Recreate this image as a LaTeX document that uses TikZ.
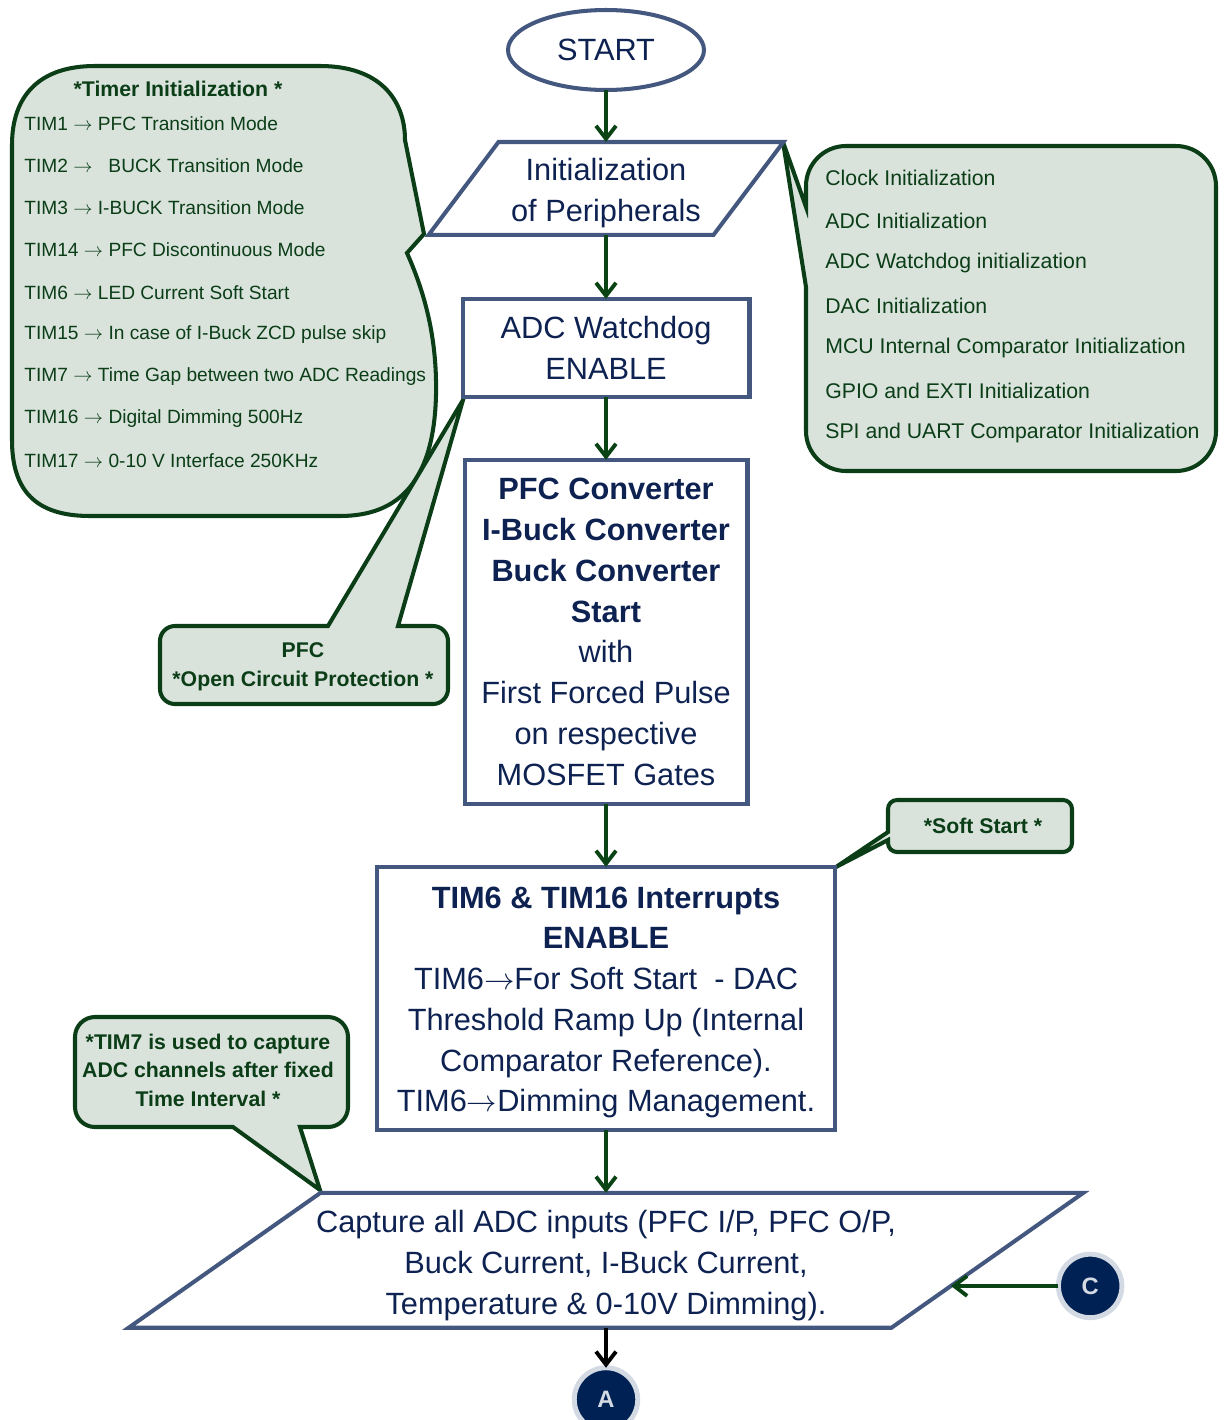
\documentclass[tikz,border=0pt]{standalone}
\usepackage{fontspec}
\setmainfont{Liberation Sans}
\usetikzlibrary{positioning,shapes.geometric,arrows.meta,calc}

\definecolor{navytext}{HTML}{0E2252}
\definecolor{boxblue}{HTML}{44587F}
\definecolor{notegreen}{HTML}{0B3D17}
\definecolor{notefill}{HTML}{D9E3DC}
\definecolor{flowgreen}{HTML}{0A4414}
\definecolor{circnavy}{HTML}{002153}
\definecolor{ringgrey}{HTML}{D3DAE3}

\newcommand{\flowfont}{\fontsize{17.5}{23.2}\selectfont}
\newcommand{\timerfont}{\fontsize{10.9}{13}\selectfont}
\newcommand{\periphfont}{\fontsize{12.1}{14}\selectfont}

\begin{document}
\begin{tikzpicture}[x=0.02cm,y=-0.02cm,
	terminal/.style={ellipse,draw=boxblue,line width=2.3pt,fill=white,text=navytext,inner sep=0pt,outer sep=0pt,minimum width=3.92cm,minimum height=1.6cm,font=\flowfont},
	process/.style={rectangle,draw=boxblue,line width=2.3pt,fill=white,text=navytext,align=center,inner sep=0pt,outer sep=0pt,font=\flowfont},
	iotext/.style={rectangle,text=navytext,align=center,inner sep=0pt,outer sep=0pt,font=\flowfont},
	iobox/.style={draw=boxblue,line width=2.3pt,line join=miter},
	paths/.style={-{Straight Barb[length=2.6mm,width=4mm]},line width=2.2pt,draw=flowgreen},
	bubble/.style={draw=notegreen,fill=notefill,line width=2.3pt,line join=miter},
	listitem/.style={anchor=base west,text=notegreen,inner sep=0pt},
	note/.style={text=notegreen,align=center,inner sep=0pt,font=\bfseries\fontsize{12.1}{16.2}\selectfont},
	connector/.style={circle,fill=circnavy,draw=ringgrey,line width=2.8pt,minimum size=1.27cm,inner sep=0pt,outer sep=0pt,text=ringgrey,font=\bfseries\fontsize{13.5}{13.5}\selectfont}
	]
\useasboundingbox (0,0) rectangle (1224,1420);

% timer initialization callout
\draw[bubble] (424,234) -- (407,253) .. controls (428,300) and (437,345) .. (436,395)
	.. controls (434,480) and (400,516) .. (340,516) -- (90,516)
	.. controls (35,516) and (12,490) .. (12,440) -- (12,145)
	.. controls (12,95) and (40,66) .. (95,66) -- (320,66)
	.. controls (380,66) and (405,100) .. (405,140) -- cycle;
\node [note] (timertitle) at (178,89) {*Timer Initialization *};
\foreach \y/\txt in {130/TIM1 $\rightarrow$ PFC Transition Mode,
	172/TIM2 $\rightarrow$~~~BUCK Transition Mode,
	214/TIM3 $\rightarrow$ I-BUCK Transition Mode,
	256/TIM14 $\rightarrow$ PFC Discontinuous Mode,
	299/TIM6 $\rightarrow$ LED Current Soft Start,
	339/TIM15 $\rightarrow$ In case of I-Buck ZCD pulse skip,
	381/TIM7 $\rightarrow$ Time Gap between two ADC Readings,
	423/TIM16 $\rightarrow$ Digital Dimming 500Hz,
	467/TIM17 $\rightarrow$ 0-10 V Interface 250KHz}
	\node [listitem,font=\timerfont] (timer-\y) at (24,\y) {\txt};

% peripherals callout
\draw[bubble] (783,142) -- (806,207) -- (806,186) arc (180:270:40) -- (1176,146) arc (270:360:40)
	-- (1216,431) arc (0:90:40) -- (846,471) arc (90:180:40) -- (806,287) -- cycle;
\foreach \y/\txt in {185/Clock Initialization,
	228/ADC Initialization,
	268/ADC Watchdog initialization,
	313/DAC Initialization,
	353/MCU Internal Comparator Initialization,
	398/GPIO and EXTI Initialization,
	438/SPI and UART Comparator Initialization}
	\node [listitem,font=\periphfont] (periph-\y) at (825,\y) {\txt};

% open circuit callout
\draw[bubble] (463,400) -- (398,626) -- (405,626) [rounded corners=0.3cm] -- (448,626) -- (448,704)
	-- (160,704) -- (160,626) -- (200,626) [sharp corners] -- (328,626) -- cycle;
\node [note] (pfcnote) at (303,667) {PFC\\*Open Circuit Protection *};

% soft start callout
\draw[bubble] (836,867) -- (888,840) -- (888,841) [rounded corners=0.18cm] -- (888,852) -- (1072,852)
	-- (1072,800) -- (888,800) -- (888,820) [sharp corners] -- (888,832) -- cycle;
\node [note] (softnote) at (983,826) {*Soft Start *};

% tim7 callout
\draw[bubble] (320,1190) -- (300,1127) -- (305,1127) [rounded corners=0.4cm] -- (348,1127) -- (348,1017)
	-- (75,1017) -- (75,1127) -- (120,1127) [sharp corners] -- (233,1127) -- cycle;
\node [note] (tim7note) at (208,1070) {*TIM7 is used to capture\\ADC channels after fixed\\Time Interval *};

% main flow
\node [terminal] (start) at (606,50) {START};
\node [iotext,minimum width=5.7cm,minimum height=1.86cm] (init) [below = 1.04cm of start] {\rule{0pt}{18.2pt}Initialization\\of Peripherals};
\node [process,minimum width=5.74cm,minimum height=1.96cm] (adc) [below = 1.28cm of init] {ADC Watchdog\\ENABLE};
\node [process,minimum width=5.66cm,minimum height=6.88cm] (pfc) [below = 1.26cm of adc]
	{\textbf{PFC Converter}\\\textbf{I-Buck Converter}\\\textbf{Buck Converter}\\\textbf{Start}\\with\\First Forced Pulse\\on respective\\MOSFET Gates};
\node [process,minimum width=9.16cm,minimum height=5.26cm] (tim6) [below = 1.26cm of pfc]
	{\rule{0pt}{17pt}\textbf{TIM6 \& TIM16 Interrupts}\\\textbf{ENABLE}\\TIM6$\rightarrow$For Soft Start~ - DAC\\Threshold Ramp Up (Internal\\Comparator Reference).\\TIM6$\rightarrow$Dimming Management.};
\node [iotext,minimum width=15.26cm,minimum height=2.7cm] (capture) [below = 1.26cm of tim6]
	{\rule{0pt}{18.5pt}Capture all ADC inputs (PFC I/P, PFC O/P,\\Buck Current, I-Buck Current,\\Temperature \& 0-10V Dimming).};
\node [connector] (A) [below = 0.8cm of capture] {A};

\draw [iobox] ([xshift=-0.7cm]init.south west) -- ([xshift=-0.7cm]init.south east)
	-- ([xshift=0.7cm]init.north east) -- ([xshift=0.7cm]init.north west) -- cycle;
\draw [iobox] ([xshift=-1.92cm]capture.south west) -- ([xshift=-1.92cm]capture.south east)
	-- ([xshift=1.92cm]capture.north east) -- ([xshift=1.92cm]capture.north west) -- cycle;

\coordinate (capedge) at ($([xshift=-1.92cm]capture.south east)!0.31!([xshift=1.92cm]capture.north east)$);
\node [connector] (C) [right = 2.15cm of capedge] {C};

\draw [paths] (start) to (init);
\draw [paths] (init) to (adc);
\draw [paths] (adc) to (pfc);
\draw [paths] (pfc) to (tim6);
\draw [paths] (tim6) to (capture);
\draw [paths,draw=black] (capture) to (A);
\draw [paths] (C) to (capedge);
\end{tikzpicture}
\end{document}
